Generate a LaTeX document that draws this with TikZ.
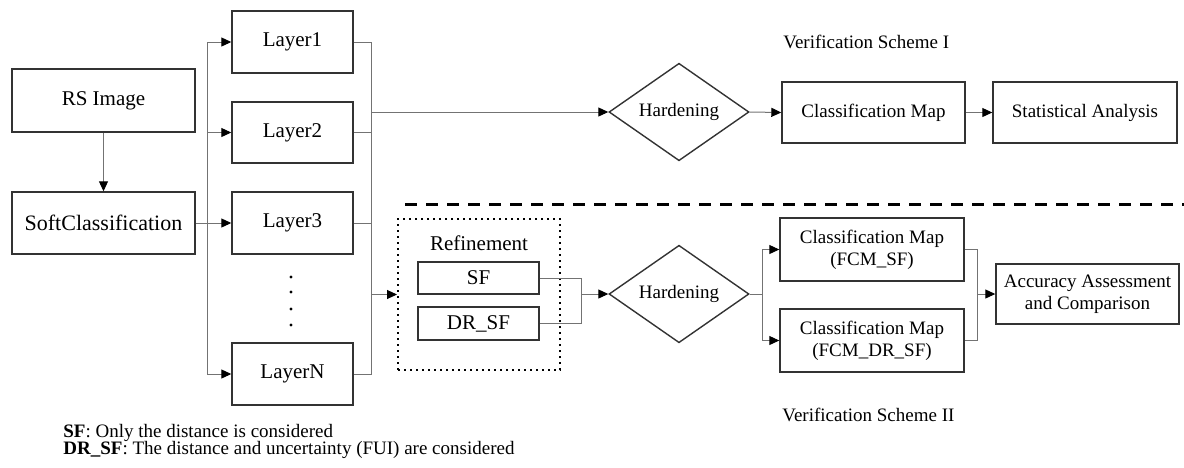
\documentclass[tikz,border=0pt]{standalone}
\usepackage{fontspec}
\setmainfont{Liberation Serif}
\usetikzlibrary{shapes.geometric,arrows.meta}
\begin{document}
\begin{tikzpicture}[x=0.5pt,y=-0.5pt,
  every node/.style={font=\fontsize{9.5}{11}\selectfont},
  big/.style={font=\fontsize{10.5}{12}\selectfont},
  box/.style={draw=black!80,line width=0.7pt,rectangle,inner sep=0pt,align=center},
  dia/.style={draw=black!80,line width=0.7pt,diamond,inner sep=0pt,minimum width=70pt,minimum height=30.5pt},
  con/.style={draw=black!55,line width=0.5pt},
  arr/.style={con,-{Triangle[length=5pt,width=4.5pt,color=black]}},
  txt/.style={inner sep=0pt,anchor=west}]
\useasboundingbox (0,0) rectangle (1184,467);
% left column
\node[box,big,minimum width=91.5pt,minimum height=31.5pt] (rs) at (103.5,100.5) {RS Image};
\node[box,font=\fontsize{11}{13}\selectfont,minimum width=91.5pt,minimum height=31pt] (soft) at (103.5,223) {SoftClassification};
% layers
\node[box,big,minimum width=60.5pt,minimum height=31pt] (l1) at (292.5,42) {Layer1};
\node[box,big,minimum width=60.5pt,minimum height=30.5pt] (l2) at (292.5,132.5) {Layer2};
\node[box,big,minimum width=60.5pt,minimum height=31pt] (l3) at (292.5,223) {Layer3};
\node[box,big,minimum width=60.5pt,minimum height=31pt] (ln) at (292.5,374) {LayerN};
\foreach \yy in {277,292,309,325}
  \fill (291,\yy) circle (0.8pt);
% scheme I
\node[dia] (h1) at (679,112) {Hardening};
\node[box,minimum width=91.5pt,minimum height=30.5pt] (cm) at (873.5,112.5) {Classification Map};
\node[box,minimum width=92pt,minimum height=30.5pt] (sa) at (1085,112.5) {Statistical Analysis};
\node[txt] (vs1) at (783,42) {Verification Scheme I};
% dashed separator
\coordinate (dsA) at (405,204);
\coordinate (dsB) at (1184,204);
\draw[line width=1.5pt,dash pattern=on 6pt off 4.5pt] (dsA) -- (dsB);
% refinement
\node[draw=black,line width=1pt,dotted,minimum width=81pt,minimum height=75.5pt,inner sep=0pt] (ref) at (479,294.5) {};
\node[big,inner sep=0pt] (reft) at (479,243) {Refinement};
\node[box,big,minimum width=60.5pt,minimum height=16pt] (sf) at (478.5,278) {SF};
\node[box,big,minimum width=60.5pt,minimum height=16.5pt] (drsf) at (478.5,323.5) {DR\_SF};
% scheme II
\node[dia] (h2) at (679,294) {Hardening};
\node[box,minimum width=92pt,minimum height=31.5pt] (f1) at (872,249.5) {Classification Map\\(FCM\_SF)};
\node[box,minimum width=92pt,minimum height=31.5pt] (f2) at (872,340.5) {Classification Map\\(FCM\_DR\_SF)};
\node[box,minimum width=91.5pt,minimum height=30pt] (acc) at (1087.5,294) {Accuracy Assessment\\and Comparison};
\node[txt] (vs2) at (782,415) {Verification Scheme II};
% notes
\node[txt] (n1) at (63,433) {\textbf{SF}: Only the distance is considered};
\node[txt] (n2) at (63,450) {\textbf{DR\_SF}: The distance and uncertainty (FUI) are considered};
% bus coordinates
\coordinate (bL) at (207,0);
\coordinate (bR) at (371,0);
\coordinate (bS) at (581,0);
\coordinate (bH) at (762,0);
\coordinate (bF) at (977,0);
% connectors
\draw[arr] (rs) -- (soft);
\draw[arr] (soft.east) -- (l3.west);
\draw[con] (bL |- l1.west) -- (bL |- ln.west);
\draw[arr] (bL |- l1.west) -- (l1.west);
\draw[arr] (bL |- l2.west) -- (l2.west);
\draw[arr] (bL |- ln.west) -- (ln.west);
\draw[con] (l1.east) -- (bR |- l1.east) -- (bR |- ln.east) -- (ln.east);
\draw[con] (l2.east) -- (bR |- l2.east);
\draw[con] (l3.east) -- (bR |- l3.east);
\draw[arr] (bR |- h1.west) -- (h1.west);
\draw[arr] (bR |- ref.west) -- (ref.west);
\draw[arr] (h1.east) -- (cm.west);
\draw[arr] (cm.east) -- (sa.west);
\draw[con] (sf.east) -- (bS |- sf.east) -- (bS |- drsf.east) -- (drsf.east);
\draw[arr] (bS |- h2.west) -- (h2.west);
\draw[con] (h2.east) -- (bH |- h2.east);
\draw[con] (bH |- f1.west) -- (bH |- f2.west);
\draw[arr] (bH |- f1.west) -- (f1.west);
\draw[arr] (bH |- f2.west) -- (f2.west);
\draw[con] (f1.east) -- (bF |- f1.east) -- (bF |- f2.east) -- (f2.east);
\draw[arr] (bF |- acc.west) -- (acc.west);
\end{tikzpicture}
\end{document}
